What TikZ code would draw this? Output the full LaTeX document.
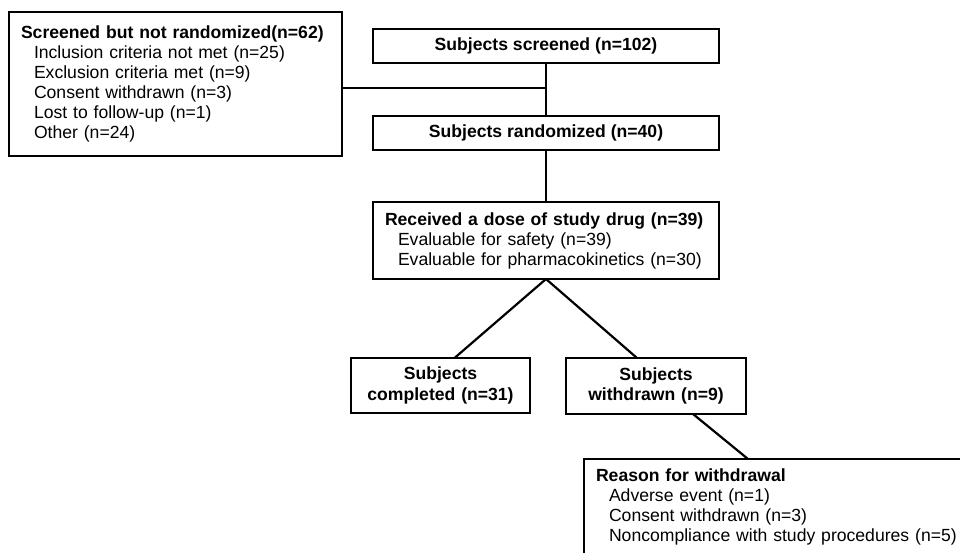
\documentclass[tikz,border=0pt]{standalone}
\usepackage{fontspec}
\setmainfont{Liberation Sans}

\newcommand{\sublist}{\hspace*{13pt}}

\begin{document}
\begin{tikzpicture}[
x=1pt,
y=-1pt,
font=\fontsize{17.6}{20}\selectfont,
box/.style={
rectangle,
draw=black,
line width=2.6pt,
anchor=north west,
inner xsep=12pt,
inner ysep=0pt,
outer sep=0pt
},
head/.style={
box,
font=\fontsize{17.6}{20.5}\selectfont\bfseries,
align=center
},
list/.style={
box,
align=left
},
link/.style={line width=2.2pt}
]

\useasboundingbox (0,0) rectangle (960,552);
\clip (0,0) rectangle (960,552);

\node[list, text width=309pt, minimum height=144pt] (excluded) at (9,12)
{\textbf{Screened but not randomized(n=62)}\\
\sublist Inclusion criteria not met (n=25)\\
\sublist Exclusion criteria met (n=9)\\
\sublist Consent withdrawn (n=3)\\
\sublist Lost to follow-up (n=1)\\
\sublist Other (n=24)};

\node[head, minimum width=346pt, minimum height=34pt] (screened) at (373,29)
{Subjects screened (n=102)};

\node[head, minimum width=346pt, minimum height=34pt] (randomized) at (373,116)
{Subjects randomized (n=40)};

\node[list, text width=322pt, minimum height=77pt] (dosed) at (373,202)
{\textbf{Received a dose of study drug (n=39)}\\
\sublist Evaluable for safety (n=39)\\
\sublist Evaluable for pharmacokinetics (n=30)};

\node[head, text width=155pt, minimum height=55pt] (completed) at (351,358)
{Subjects\\completed (n=31)};

\node[head, text width=156pt, minimum height=56pt] (withdrawn) at (566,358)
{Subjects\\withdrawn (n=9)};

\node[list, text width=376pt, inner ysep=10pt] (reasons) at (584,459)
{\textbf{Reason for withdrawal}\\
\sublist Adverse event (n=1)\\
\sublist Consent withdrawn (n=3)\\
\sublist Noncompliance with study procedures (n=5)};

% connectors
\draw[link] (screened.south) -- (randomized.north);
\draw[link] ([yshift=-4pt]excluded.east) -- ([yshift=-4pt]excluded.east -| screened.south);
\draw[link] (randomized.south) -- (dosed.north);
\draw[link] (dosed.south) -- ([xshift=14pt]completed.north);
\draw[link] (dosed.south) -- ([xshift=-19pt]withdrawn.north);
\draw[link] ([xshift=37pt]withdrawn.south) -- ([xshift=164pt]reasons.north west);

\end{tikzpicture}
\end{document}
